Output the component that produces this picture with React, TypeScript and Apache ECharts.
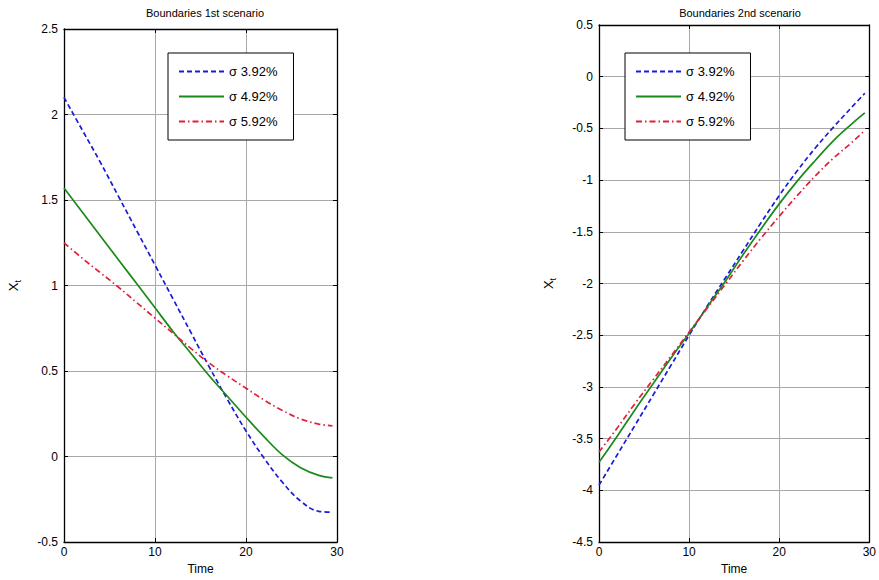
import React, { useEffect, useRef } from "react";
import * as echarts from "echarts";

const timeSteps = [0, 2, 4, 6, 8, 10, 12, 14, 16, 18, 20, 22, 24, 26, 28, 29.5];
const seriesNames = ["σ 3.92%", "σ 4.92%", "σ 5.92%"];

// 1st scenario
const s1Blue = [2.1, 1.91, 1.72, 1.52, 1.32, 1.12, 0.92, 0.72, 0.52, 0.33, 0.15, -0.01, -0.15, -0.26, -0.32, -0.325];
const s1Green = [1.57, 1.43, 1.29, 1.15, 1.01, 0.87, 0.73, 0.6, 0.47, 0.35, 0.23, 0.115, 0.01, -0.065, -0.11, -0.125];
const s1Red = [1.25, 1.16, 1.075, 0.99, 0.9, 0.81, 0.72, 0.63, 0.545, 0.47, 0.4, 0.33, 0.27, 0.22, 0.19, 0.18];

// 2nd scenario
const s2Blue = [-3.95, -3.66, -3.37, -3.08, -2.79, -2.5, -2.22, -1.95, -1.68, -1.41, -1.15, -0.91, -0.69, -0.49, -0.3, -0.16];
const s2Green = [-3.73, -3.48, -3.22, -2.97, -2.72, -2.48, -2.23, -1.98, -1.72, -1.47, -1.23, -1.01, -0.81, -0.62, -0.46, -0.35];
const s2Red = [-3.63, -3.4, -3.16, -2.93, -2.7, -2.47, -2.24, -2.01, -1.78, -1.56, -1.35, -1.15, -0.96, -0.79, -0.64, -0.52];

const titles = ["Boundaries 1st scenario", "Boundaries 2nd scenario"];
const xTicks = { min: 0, max: 30, interval: 10 };
const y1Ticks = { min: -0.5, max: 2.5, interval: 0.5 };
const y2Ticks = { min: -4.5, max: 0.5, interval: 0.5 };

const FONT = "Liberation Sans, Arial, sans-serif";
const colors = ["#1a1ad8", "#1a8a1a", "#e0203a"];
const dashes: any[] = [[5, 3], "solid", [6, 3, 1.5, 3]];

function pairs(vals: number[]) {
  return timeSteps.map((t, i) => [t, vals[i]]);
}

export default function App() {
  const ref = useRef<HTMLDivElement>(null);
  useEffect(() => {
    if (!ref.current) return;
    const chart = echarts.init(ref.current, undefined, { renderer: "svg" });
    const grids = [
      { left: 64, top: 29, width: 273, height: 516 },
      { left: 599, top: 25, width: 272, height: 517 },
    ];
    const mkX = (gi: number, pos: string, main: boolean) => ({
      type: "value",
      gridIndex: gi,
      position: pos,
      ...xTicks,
      name: main ? "Time" : "",
      nameLocation: "middle",
      nameGap: 20,
      nameTextStyle: { fontFamily: FONT, fontSize: 12, color: "#000" },
      axisLine: { show: true, onZero: false, lineStyle: { color: "#000", width: 1.3 } },
      axisTick: { show: true, inside: true, length: 4, lineStyle: { color: "#000" } },
      axisLabel: { show: main, fontFamily: FONT, fontSize: 12, color: "#000", margin: 4 },
      splitLine: { show: main, lineStyle: { color: "#a8a8a8", width: 1 } },
    });
    const mkY = (gi: number, pos: string, main: boolean, t: any) => ({
      type: "value",
      gridIndex: gi,
      position: pos,
      ...t,
      name: main ? "{x|X}{t|t}" : "",
      nameLocation: "middle",
      nameGap: 42,
      nameRotate: 90,
      nameTextStyle: {
        fontFamily: FONT,
        color: "#000",
        rich: {
          x: { fontFamily: FONT, fontSize: 13, color: "#000" },
          t: { fontFamily: FONT, fontSize: 9, color: "#000", padding: [8, 0, 0, 0] },
        },
      },
      axisLine: { show: true, onZero: false, lineStyle: { color: "#000", width: 1.3 } },
      axisTick: { show: true, inside: true, length: 4, lineStyle: { color: "#000" } },
      axisLabel: { show: main, fontFamily: FONT, fontSize: 12, color: "#000", margin: 6 },
      splitLine: { show: main, lineStyle: { color: "#a8a8a8", width: 1 } },
    });
    const sets = [
      [s1Blue, s1Green, s1Red],
      [s2Blue, s2Green, s2Red],
    ];
    const series: any[] = [];
    sets.forEach((set, gi) => {
      set.forEach((vals, k) => {
        series.push({
          type: "line",
          name: seriesNames[k],
          xAxisIndex: gi * 2,
          yAxisIndex: gi * 2,
          data: pairs(vals),
          smooth: 0.4,
          showSymbol: false,
          symbol: "none",
          lineStyle: { color: colors[k], width: 1.7, type: dashes[k] },
          itemStyle: { color: colors[k] },
          z: 3,
        });
      });
    });
    const mkLegend = (left: number, top: number) => ({
      left,
      top,
      orient: "vertical",
      data: seriesNames,
      selectedMode: false,
      itemWidth: 45,
      itemHeight: 14,
      itemGap: 12,
      padding: [12, 16, 12, 10],
      backgroundColor: "#fff",
      borderColor: "#000",
      borderWidth: 1,
      itemStyle: { opacity: 0 },
      textStyle: { fontFamily: FONT, fontSize: 13, color: "#000" },
    });
    chart.setOption({
      animation: false,
      backgroundColor: "#fff",
      title: [
        { text: titles[0], left: 200, top: 2, textAlign: "center", textStyle: { fontFamily: FONT, fontSize: 11, fontWeight: "normal", color: "#000" } },
        { text: titles[1], left: 735, top: 2, textAlign: "center", textStyle: { fontFamily: FONT, fontSize: 11, fontWeight: "normal", color: "#000" } },
      ],
      grid: grids.map((g) => ({ ...g, show: true, borderColor: "#000", borderWidth: 0, backgroundColor: "#fff" })),
      xAxis: [mkX(0, "bottom", true), mkX(0, "top", false), mkX(1, "bottom", true), mkX(1, "top", false)],
      yAxis: [mkY(0, "left", true, y1Ticks), mkY(0, "right", false, y1Ticks), mkY(1, "left", true, y2Ticks), mkY(1, "right", false, y2Ticks)],
      legend: [mkLegend(168, 53), mkLegend(625, 53)],
      series,
    });
    return () => chart.dispose();
  }, []);
  return <div ref={ref} style={{ position: "fixed", left: 0, top: 0, width: 879, height: 580 }} />;
}
